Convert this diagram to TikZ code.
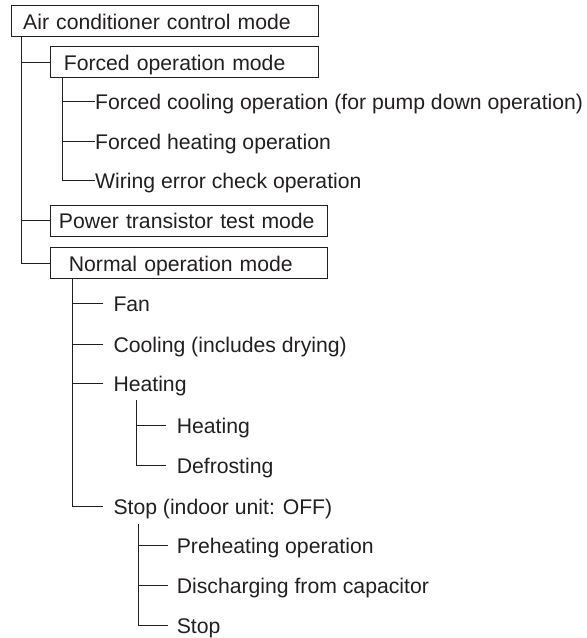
\documentclass[tikz,border=0pt]{standalone}
\usepackage{fontspec}
\setmainfont{Liberation Sans}
\definecolor{ink}{HTML}{231F20}
\begin{document}
\begin{tikzpicture}[x=1pt,y=-1pt,
  every node/.style={font=\fontsize{21.2pt}{24pt}\selectfont, text=ink},
  box/.style={draw=ink, line width=1pt, anchor=north west, inner ysep=0pt,
    minimum height=31pt, align=left, text height=16.4pt, text depth=0pt},
  leaf/.style={anchor=west, inner ysep=0pt, text height=17.6pt, text depth=0pt},
  conn/.style={draw=ink, line width=1pt}]
\useasboundingbox (0,0) rectangle (587,638);

% boxes
\node[box, inner xsep=11.7pt, text width=283.6pt] (root) at (11,5) {Air conditioner control mode};
\node[box, inner xsep=13.3pt, text width=241.4pt] (fom) at (50,46) {Forced operation mode};
\node[box, inner xsep=8.4pt, text width=260.2pt] (pow) at (50,204.5) {Power transistor test mode};
\node[box, inner xsep=18.4pt, text width=240.2pt] (nor) at (50,247) {Normal operation mode};

% root connectors
\coordinate (rv) at (21,36);
\draw[conn] (rv) |- (nor.west);
\draw[conn] (rv |- fom.west) -- (fom.west);
\draw[conn] (rv |- pow.west) -- (pow.west);

% forced operation children
\node[leaf, inner xsep=0pt] (fc) at (95,101) {Forced cooling operation (for pump down operation)};
\node[leaf, inner xsep=0pt] (fh) at (95,141) {Forced heating operation};
\node[leaf, inner xsep=0pt] (we) at (95,180) {Wiring error check operation};
\coordinate (fv) at (62,77);
\draw[conn] (fv) |- (we.west);
\draw[conn] (fv |- fc.west) -- (fc.west);
\draw[conn] (fv |- fh.west) -- (fh.west);

% normal operation children
\node[leaf, inner xsep=10.8pt] (fan) at (102.5,303) {Fan};
\node[leaf, inner xsep=10.8pt] (cool) at (102.5,344) {Cooling (includes drying)};
\node[leaf, inner xsep=10.8pt] (heat) at (102.5,383) {Heating};
\node[leaf, inner xsep=10.8pt] (stop) at (102.5,506) {Stop (indoor unit: OFF)};
\coordinate (nv) at (72.5,278);
\draw[conn] (nv) |- (stop.west);
\draw[conn] (nv |- fan.west) -- (fan.west);
\draw[conn] (nv |- cool.west) -- (cool.west);
\draw[conn] (nv |- heat.west) -- (heat.west);

% heating children
\node[leaf, inner xsep=10.6pt] (heat2) at (166,425) {Heating};
\node[leaf, inner xsep=10.6pt] (defr) at (166,465) {Defrosting};
\coordinate (hv) at (136,400);
\draw[conn] (hv) |- (defr.west);
\draw[conn] (hv |- heat2.west) -- (heat2.west);

% stop children
\node[leaf, inner xsep=8.6pt] (pre) at (168,545) {Preheating operation};
\node[leaf, inner xsep=8.6pt] (dis) at (168,585) {Discharging from capacitor};
\node[leaf, inner xsep=8.6pt, text height=16.6pt] (stp) at (168,625) {Stop};
\coordinate (sv) at (138,524);
\draw[conn] (sv) |- (stp.west);
\draw[conn] (sv |- pre.west) -- (pre.west);
\draw[conn] (sv |- dis.west) -- (dis.west);
\end{tikzpicture}
\end{document}
